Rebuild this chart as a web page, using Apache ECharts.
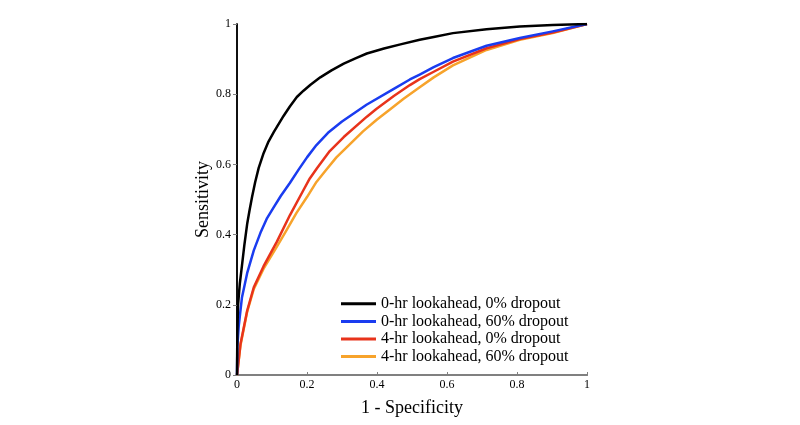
<!DOCTYPE html>
<html>
<head>
<meta charset="utf-8">
<script src="https://cdn.jsdelivr.net/npm/echarts@6/dist/echarts.min.js"></script>
<style>html,body{margin:0;padding:0;background:#fff;}#c{width:800px;height:425px;}</style>
</head>
<body>
<div id="c"></div>
<script>
// Series names
const seriesNames = [
  '0-hr lookahead, 0% dropout',
  '0-hr lookahead, 60% dropout',
  '4-hr lookahead, 0% dropout',
  '4-hr lookahead, 60% dropout'
];
// [1 - specificity, sensitivity]
const roc0hr0 = [[0,0],[0.001,0.12],[0.003,0.2],[0.008,0.26],[0.014,0.31],[0.021,0.37],[0.029,0.43],[0.036,0.47],[0.043,0.507],[0.052,0.55],[0.062,0.59],[0.076,0.632],[0.09,0.665],[0.105,0.692],[0.133,0.738],[0.151,0.765],[0.171,0.792],[0.19,0.81],[0.21,0.827],[0.238,0.848],[0.27,0.868],[0.305,0.887],[0.34,0.903],[0.371,0.916],[0.42,0.93],[0.467,0.942],[0.522,0.955],[0.562,0.963],[0.617,0.974],[0.713,0.985],[0.808,0.993],[0.902,0.997],[1,1]];
const roc0hr60 = [[0,0],[0.001,0.08],[0.005,0.14],[0.014,0.22],[0.029,0.29],[0.048,0.355],[0.067,0.405],[0.086,0.447],[0.103,0.475],[0.125,0.51],[0.151,0.547],[0.176,0.585],[0.2,0.62],[0.227,0.655],[0.26,0.69],[0.3,0.722],[0.37,0.77],[0.448,0.815],[0.494,0.842],[0.522,0.856],[0.562,0.877],[0.617,0.903],[0.713,0.938],[0.808,0.96],[0.902,0.979],[1,1]];
const roc4hr0 = [[0,0],[0.01,0.088],[0.029,0.183],[0.048,0.25],[0.076,0.31],[0.114,0.38],[0.151,0.455],[0.19,0.527],[0.208,0.56],[0.229,0.59],[0.265,0.638],[0.305,0.678],[0.371,0.736],[0.398,0.758],[0.448,0.795],[0.494,0.826],[0.522,0.843],[0.562,0.864],[0.617,0.893],[0.713,0.931],[0.808,0.957],[0.902,0.976],[1,1]];
const roc4hr60 = [[0,0],[0.01,0.085],[0.029,0.18],[0.048,0.245],[0.076,0.303],[0.114,0.366],[0.14,0.41],[0.17,0.462],[0.2,0.507],[0.227,0.55],[0.255,0.585],[0.284,0.62],[0.333,0.668],[0.36,0.694],[0.4,0.728],[0.436,0.756],[0.476,0.787],[0.522,0.82],[0.562,0.848],[0.617,0.882],[0.713,0.926],[0.808,0.955],[0.902,0.974],[1,1]];
const seriesData = [roc0hr0, roc0hr60, roc4hr0, roc4hr60];
const colors = ['#000000', '#1a3cf0', '#e8331b', '#f7a32b'];
const font = "'Liberation Serif','Times New Roman',serif";

const chart = echarts.init(document.getElementById('c'), null, {renderer: 'canvas'});
chart.setOption({
  animation: false,
  backgroundColor: '#fff',
  grid: {left: 237, right: 213, top: 24, bottom: 50},
  legend: {
    orient: 'vertical', left: 336, top: 290,
    itemWidth: 35, itemHeight: 3, itemGap: 0, icon: 'rect',
    textStyle: {fontFamily: font, fontSize: 16, color: '#000', lineHeight: 17.6},
    data: seriesNames
  },
  xAxis: [{
    type: 'value', min: 0, max: 1, interval: 0.2, position: 'bottom',
    name: '1 - Specificity', nameLocation: 'middle', nameGap: 24,
    nameTextStyle: {fontFamily: font, fontSize: 18, color: '#000'},
    axisLine: {show: true, lineStyle: {color: '#808080', width: 2}},
    axisTick: {show: true, inside: true, length: 3, lineStyle: {color: '#808080'}},
    axisLabel: {fontFamily: font, fontSize: 12, color: '#000', margin: 4},
    splitLine: {show: false}
  }, {
    type: 'value', min: 0, max: 1, position: 'top',
    axisLine: {show: true, lineStyle: {color: '#808080', width: 2}},
    axisTick: {show: false}, axisLabel: {show: false}, splitLine: {show: false}
  }],
  yAxis: [{
    type: 'value', min: 0, max: 1, interval: 0.2, position: 'left',
    name: 'Sensitivity', nameLocation: 'middle', nameGap: 21,
    nameTextStyle: {fontFamily: font, fontSize: 18, color: '#000'},
    axisLine: {show: true, lineStyle: {color: '#000', width: 1.5}},
    axisTick: {show: true, inside: false, length: 4, lineStyle: {color: '#808080'}},
    axisLabel: {fontFamily: font, fontSize: 12, color: '#000', margin: 6},
    splitLine: {show: false}
  }, {
    type: 'value', min: 0, max: 1, position: 'right',
    axisLine: {show: true, lineStyle: {color: '#000', width: 1.5}},
    axisTick: {show: false}, axisLabel: {show: false}, splitLine: {show: false}
  }],
  series: seriesData.map((d, i) => ({
    name: seriesNames[i], type: 'line', data: d,
    showSymbol: false, symbol: 'none',
    smooth: false,
    lineStyle: {color: colors[i], width: 2.5, join: 'round'},
    itemStyle: {color: colors[i]},
    z: 10 - i
  }))
});
</script>
</body>
</html>
